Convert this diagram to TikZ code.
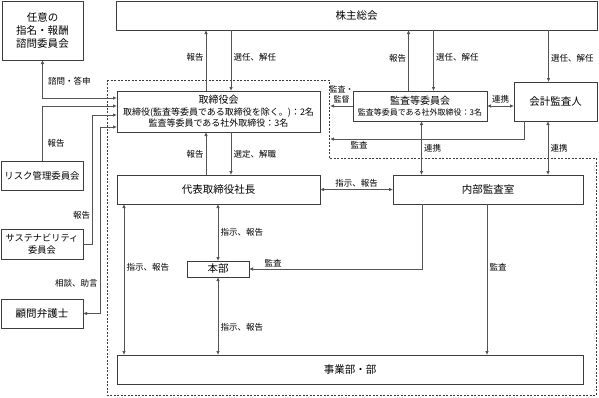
\documentclass[tikz,border=0pt]{standalone}
\usepackage{fontspec}
\setmainfont{Noto Sans CJK JP}
\usetikzlibrary{arrows.meta, positioning, calc}
\definecolor{boxline}{RGB}{60,60,60}
\definecolor{arrline}{RGB}{85,85,85}
\tikzset{
  orgbox/.style={rectangle, draw=boxline, line width=0.8pt, align=center,
    inner sep=1pt, outer sep=0pt, font=\fontsize{10.5}{13}\selectfont},
  arrow/.style={-{Latex[length=4pt,width=3.6pt]}, line width=1pt, color=arrline},
  dblarrow/.style={{Latex[length=4pt,width=3.6pt]}-{Latex[length=4pt,width=3.6pt]}, line width=1pt, color=arrline},
  line/.style={line width=1pt, color=arrline},
  lbl/.style={font=\fontsize{8.5}{10}\selectfont, text=black, inner sep=2pt},
  region/.style={draw=boxline, line width=0.8pt, dash pattern=on 2pt off 1.5pt}
}
\begin{document}
\begin{tikzpicture}[x=1pt, y=-1pt]
  \useasboundingbox (0,0) rectangle (599,397);

  % Dotted region
  \draw[region] (107,80) -- (329,80) -- (329,158) -- (596,158) -- (596,395) -- (107,395) -- cycle;

  % Top row
  \node[orgbox, minimum width=81pt, minimum height=59pt] (nomi) at (42.5,30.5) {任意の\\指名・報酬\\諮問委員会};
  \node[orgbox, minimum width=481pt, minimum height=29pt] (gm) at (356.5,15.5) {株主総会};

  % Board and audit
  \node[orgbox, minimum width=203pt, minimum height=41pt, font=\fontsize{9}{11.5}\selectfont] (board) at (218.5,111.5)
    {{\fontsize{10}{11.5}\selectfont 取締役会}\\取締役(監査等委員である取締役を除く。)：2名\\監査等委員である社外取締役：3名};
  \node[orgbox, minimum width=134pt, minimum height=30pt, font=\fontsize{8}{11}\selectfont] (acb) at (420,106)
    {{\fontsize{10}{11}\selectfont 監査等委員会}\\監査等委員である社外取締役：3名};
  \node[orgbox, minimum width=83pt, minimum height=39pt] (auditor) at (555.5,101.5) {会計監査人};

  % Execution
  \node[orgbox, minimum width=203pt, minimum height=29pt] (pres) at (218.5,189.5) {代表取締役社長};
  \node[orgbox, minimum width=190pt, minimum height=29pt] (ia) at (488,189.5) {内部監査室};
  \node[orgbox, minimum width=62pt, minimum height=16pt] (hq) at (218,269) {本部};
  \node[orgbox, minimum width=466pt, minimum height=29pt] (biz) at (350,369.5) {事業部・部};

  % Left column
  \node[orgbox, minimum width=82pt, minimum height=29pt, font=\fontsize{9.4}{12}\selectfont] (risk) at (42,175.5) {リスク管理委員会};
  \node[orgbox, minimum width=82pt, minimum height=30pt, font=\fontsize{9.2}{12}\selectfont] (sust) at (42,244) {サステナビリティ\\委員会};
  \node[orgbox, minimum width=82pt, minimum height=29pt] (lawyer) at (42,313.5) {顧問弁護士};

  % Free ends
  \coordinate (ctrl) at (330,106);
  \coordinate (audl) at (330,139);

  % Shareholders meeting
  \draw[arrow] ([xshift=-12.5pt]board.north) -- node[pos=0.55, left, lbl] {報告} ([xshift=-12.5pt]board.north |- gm.south);
  \draw[arrow] ([xshift=12.5pt]board.north |- gm.south) -- node[pos=0.45, right, lbl] {選任、解任} ([xshift=12.5pt]board.north);
  \draw[arrow] ([xshift=-11.5pt]acb.north) -- node[pos=0.54, left, lbl] {報告} ([xshift=-11.5pt]acb.north |- gm.south);
  \draw[arrow] ([xshift=13.5pt]acb.north |- gm.south) -- node[pos=0.45, right, lbl] {選任、解任} ([xshift=13.5pt]acb.north);
  \draw[arrow] ([xshift=-7pt]auditor.north |- gm.south) -- node[pos=0.54, right, lbl] {選任、解任} ([xshift=-7pt]auditor.north);

  % Audit committee
  \draw[arrow] (acb.west) -- node[above, lbl, align=center, font=\fontsize{8}{10}\selectfont] {監査・\\監督} (ctrl);
  \draw[dblarrow] (acb.east) -- node[above, lbl] {連携} (acb.east -| auditor.west);
  \draw[arrow] ([xshift=-31.5pt]auditor.south) |- node[pos=0.925, below, lbl] {監査} (audl);
  \draw[dblarrow] ([xshift=1.5pt]acb.south) -- node[right, lbl] {連携} ([xshift=1.5pt]acb.south |- ia.north);
  \draw[dblarrow] ([xshift=-7.5pt]auditor.south) -- node[right, lbl] {連携} ([xshift=-7.5pt]auditor.south |- ia.north);

  % Board and president
  \draw[arrow] ([xshift=-12.5pt]pres.north) -- node[pos=0.49, left, lbl] {報告} ([xshift=-12.5pt]board.south);
  \draw[arrow] ([xshift=12.5pt]board.south) -- node[pos=0.51, right, lbl] {選定、解職} ([xshift=12.5pt]pres.north);

  % Execution lines
  \draw[dblarrow] (pres.east) -- node[above, lbl] {指示、報告} (ia.west);
  \draw[dblarrow] (hq.north) -- node[right, lbl] {指示、報告} (hq.north |- pres.south);
  \draw[dblarrow] (hq.south) -- node[pos=0.65, right, lbl] {指示、報告} (hq.south |- biz.north);
  \draw[dblarrow] ([xshift=7pt]pres.south west) -- node[pos=0.42, right, lbl] {指示、報告} ([xshift=7pt]pres.south west |- biz.north);
  \draw[arrow] ([xshift=-66pt]ia.south) |- node[pos=0.93, above, lbl] {監査} (hq.east);
  \draw[arrow] ([xshift=-1pt]ia.south) -- node[pos=0.42, right, lbl] {監査} ([xshift=-1pt]ia.south |- biz.north);

  % Committees on the left
  \draw[dblarrow] (nomi.south) |- node[pos=0.28, right, lbl, xshift=3pt] {諮問・答申} ([yshift=13.5pt]board.west);
  \draw[arrow] (risk.north) |- node[pos=0.16, right, lbl, xshift=3pt] {報告} ([yshift=5.5pt]board.west);
  \draw[arrow] (sust.east) -- ++(9.7,0) |- node[pos=0.11, left, lbl] {報告} ([yshift=-3.5pt]board.west);
  \draw[dblarrow] (lawyer.east) -- ++(17,0) |- node[pos=0.08, left, lbl] {相談、助言} ([yshift=-15.5pt]board.west);
\end{tikzpicture}
\end{document}
